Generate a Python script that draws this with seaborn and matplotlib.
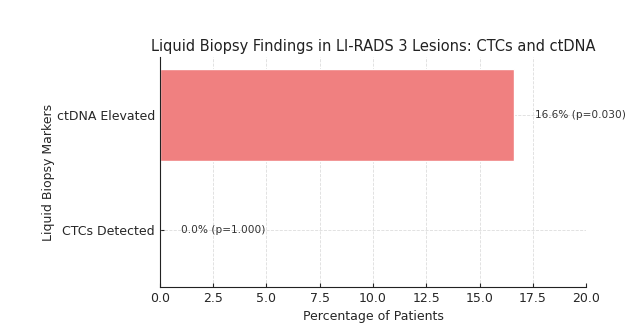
import matplotlib
matplotlib.use("Agg")
import matplotlib.pyplot as plt
import seaborn as sns
import pandas as pd

markers = ["ctDNA Elevated", "CTCs Detected"]
percentages = [16.6, 0.0]
p_values = [0.030, 1.000]

sns.set_style("white")
plt.rcParams['font.family'] = ['DejaVu Sans']

df = pd.DataFrame({"Marker": markers, "Percentage": percentages})

fig = plt.figure(figsize=(6.42, 3.24), dpi=100)
ax = fig.add_axes([0.249, 0.114, 0.664, 0.71])
sns.barplot(data=df, x="Percentage", y="Marker", order=markers, color="lightcoral",
            saturation=1, width=0.8, ax=ax, zorder=2)
ax.set_xlim(0, 20)
ax.set_xticks([0, 2.5, 5, 7.5, 10, 12.5, 15, 17.5, 20])
ax.grid(True, linestyle="--", linewidth=0.6, color="#d5d5d5", alpha=0.8, zorder=0)
ax.set_axisbelow(True)
for i, (v, p) in enumerate(zip(percentages, p_values)):
    ax.text(v + 1, i, f"{v:.1f}% (p={p:.3f})", va="center", ha="left", fontsize=7.6, color="#333333")
ax.set_title("Liquid Biopsy Findings in LI-RADS 3 Lesions: CTCs and ctDNA", fontsize=10.5,
             color="#222222", pad=4)
ax.set_xlabel("Percentage of Patients", fontsize=9)
ax.set_ylabel("Liquid Biopsy Markers", fontsize=9, labelpad=1)
ax.tick_params(axis="both", direction="in", length=3, labelsize=9, left=True, bottom=True)
sns.despine(ax=ax)
for s in ["left", "bottom"]:
    ax.spines[s].set_color("#222222")
fig.savefig("out.png", dpi=100)
